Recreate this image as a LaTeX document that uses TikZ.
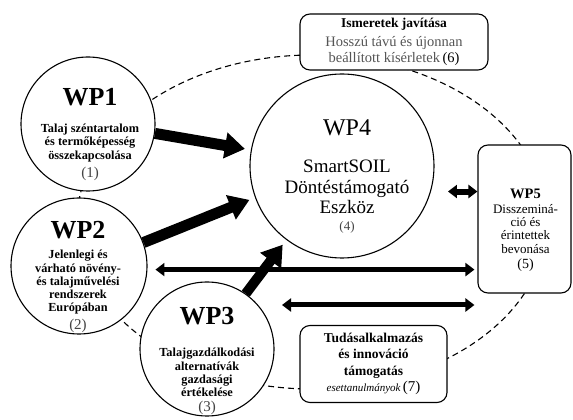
\documentclass[tikz,border=0pt]{standalone}
\usepackage{fontspec}
\setmainfont{Liberation Serif}
\usetikzlibrary{arrows.meta,calc,positioning}
\definecolor{num}{HTML}{444444}
\definecolor{soft}{HTML}{555555}

\begin{document}
\begin{tikzpicture}[x=1pt,y=1pt,
  wp/.style={draw,circle,line width=1.1pt,fill=white,inner sep=0pt},
  wptext/.style={align=center,inner sep=0pt,anchor=north,
    font=\fontsize{12.3}{13.3}\selectfont\bfseries},
  box/.style={draw,rounded corners=10pt,line width=1.1pt,fill=white,
    align=center,inner sep=0pt},
  bigarr/.style={line width=11pt,-{Triangle[length=20pt,width=25pt]},shorten >=6pt},
  dblarr/.style={line width=5pt,
    {Triangle[length=9pt,width=13pt]}-{Triangle[length=9pt,width=13pt]}},
  ring/.style={line width=1.1pt,dash pattern=on 6pt off 4pt}]
  \useasboundingbox (0,0) rectangle (573,420);
  \draw[ring] (312,198) ellipse [x radius=235,y radius=167];

  \node[wp,minimum size=134pt] (wp1) at (88,296) {};
  \node[wp,minimum size=136pt] (wp2) at (79,154) {};
  \node[wp,minimum size=134pt] (wp3) at (207,71) {};
  \node[wp,minimum size=184pt] (wp4) at (342,254) {};
  \node[box,minimum width=93pt,minimum height=148pt] (wp5) at (524.5,201) {};
  \node[box,minimum width=188pt,minimum height=56pt,
    font=\fontsize{14.5}{16}\selectfont] (know) at (394,378)
    {{\bfseries\fontsize{13.5}{16}\selectfont Ismeretek javítása}\\[3pt]
     {\color{soft}Hosszú távú és újonnan}\\{\color{soft}beállított kísérletek}\,(6)};
  \node[box,minimum width=147pt,minimum height=77pt,
    font=\fontsize{13.5}{16.5}\selectfont\bfseries] (inno) at (373.5,56)
    {Tudásalkalmazás\\és innováció\\támogatás\\
     {\mdseries\itshape\fontsize{11}{11}\selectfont esettanulmányok}\,%
     {\mdseries\fontsize{15}{15}\selectfont(7)}};

  \node[wptext] (wp1t) at ([xshift=2pt,yshift=36pt]wp1.center)
    {{\fontsize{26}{26}\selectfont WP1}\\[14pt]Talaj széntartalom\\
     és termőképesség\\összekapcsolása\\[5pt]
     {\mdseries\color{num}\fontsize{15}{15}\selectfont (1)}};
  \node[wptext] (wp2t) at ([xshift=-1pt,yshift=45pt]wp2.center)
    {{\fontsize{26}{26}\selectfont WP2}\\[7pt]Jelenlegi és\\várható növény-\\
     és talajművelési\\rendszerek\\Európában\\[4pt]
     {\mdseries\color{num}\fontsize{15}{15}\selectfont (2)}};
  \node[wptext] (wp3t) at ([yshift=42pt]wp3.center)
    {{\fontsize{26}{26}\selectfont WP3}\\[19pt]Talajgazdálkodási\\alternatívák\\
     gazdasági\\értékelése\\[1.5pt]
     {\mdseries\color{num}\fontsize{15}{15}\selectfont (3)}};
  \node[wptext,font=\fontsize{19}{20.5}\selectfont] (wp4t)
    at ([xshift=5pt,yshift=46pt]wp4.center)
    {{\fontsize{24}{24}\selectfont WP4}\\[16.5pt]SmartSOIL\\Döntéstámogató\\
     Eszköz\\[-3.5pt]{\color{num}\fontsize{13}{13}\selectfont (4)}};
  \node[wptext,font=\fontsize{13}{13.4}\selectfont] (wp5t)
    at ([xshift=1pt,yshift=30pt]wp5.center)
    {{\bfseries\fontsize{14.5}{14.5}\selectfont WP5}\\[1pt]Disszeminá-\\ció és\\
     érintettek\\bevonása\\[1.5pt]{\fontsize{14}{14}\selectfont (5)}};

  \coordinate (lane) at (282,115);
  \draw[bigarr] (wp1.-8) -- (wp4.170);
  \draw[bigarr] (wp2.20) -- (wp4.200);
  \draw[bigarr,line width=10pt] (wp3.55) -- (wp4.233);
  \draw[dblarr,shorten <=8pt,shorten >=3pt] (wp2.-3) -- (wp2.-3 -| wp5.west);
  \draw[dblarr,shorten >=3pt] (lane) -- (lane -| wp5.west);
  \draw[dblarr,line width=6pt,shorten <=17pt] (wp4.-16) -- (wp4.-16 -| wp5.west);
\end{tikzpicture}
\end{document}
